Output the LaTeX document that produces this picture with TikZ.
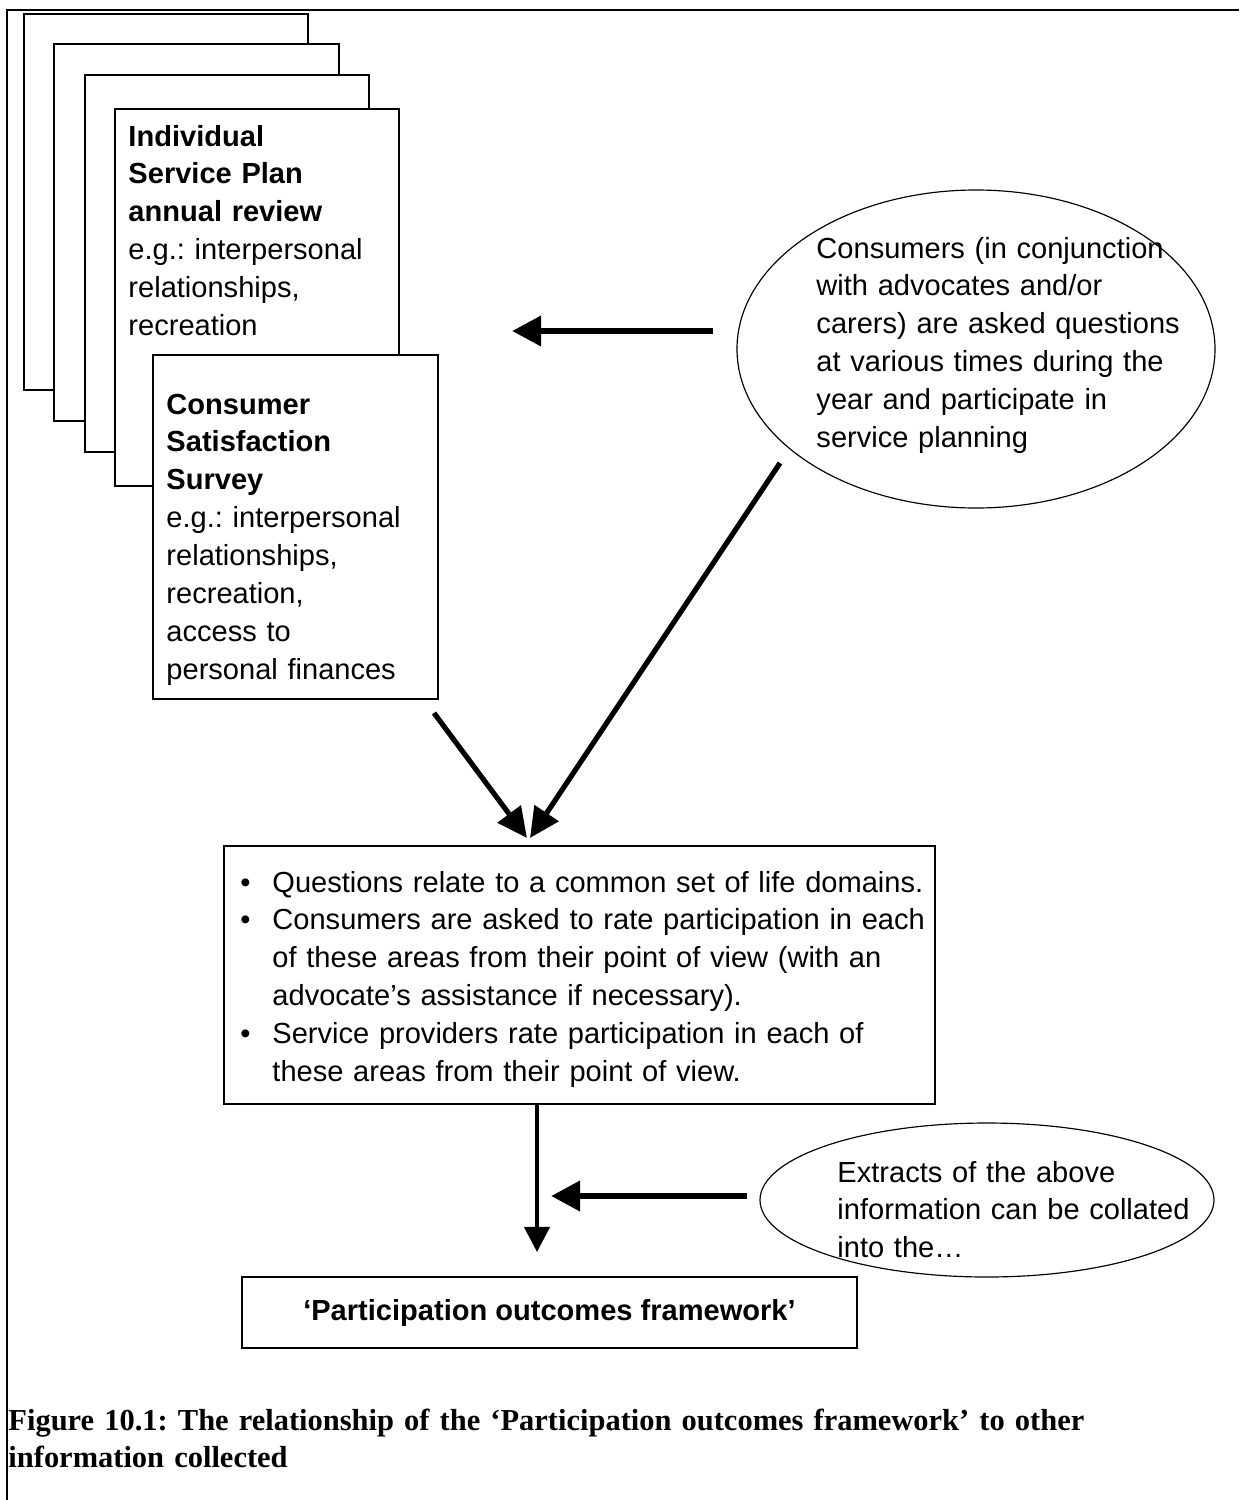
\documentclass[tikz,border=0pt]{standalone}
\usepackage{fontspec}
\setmainfont{Liberation Serif}
\setsansfont{Liberation Sans}
\usetikzlibrary{positioning, arrows.meta, shapes.geometric}
\frenchspacing
\newcommand{\px}{0.015cm}
\newcommand{\bl}{\makebox[0.48cm][l]{\textbullet}}
\newcommand{\nb}{\hspace*{0.48cm}}
\tikzset{
  >={Triangle[length=12.4pt,width=12.4pt]},
  sheet/.style={draw, fill=white, line width=0.6pt},
  box/.style={draw, rectangle, line width=0.7pt},
  bubble/.style={draw, ellipse, line width=0.5pt},
  txt/.style={font=\sffamily\fontsize{12.4}{16.2}\selectfont, align=left,
              text width=9cm, inner sep=0pt, anchor=base west},
  fat/.style={->, line width=2.8pt},
  slim/.style={->, line width=2.2pt, >={Triangle[length=12.8pt,width=12pt]}},
  down/.style={->, line width=1.8pt, >={Triangle[length=10.7pt,width=10.7pt]}},
}

\begin{document}
\begin{tikzpicture}[x=\px, y=-\px]
  \useasboundingbox (0,0) rectangle (1239,1500);
  % outer frame
  \draw[line width=1pt] (7,1500) |- (1239,10);

  % pile of forms
  \draw[sheet] (24,14) rectangle (308,390);
  \draw[sheet] (54,44) rectangle (339,421);
  \draw[sheet] (85,75) rectangle (369,452);
  \draw[sheet] (115,109) rectangle (399,486);
  \node[txt] (isp) at (128,146) {\textbf{Individual}\\ \textbf{Service Plan}\\
    \textbf{annual review}\\ e.g.: interpersonal\\ relationships,\\ recreation};
  \draw[sheet] (153,355) rectangle (438,699);
  \node[txt] (css) at (166,414) {\textbf{Consumer}\\ \textbf{Satisfaction}\\
    \textbf{Survey}\\ e.g.: interpersonal\\ relationships,\\ recreation,\\
    access to\\ personal finances};

  % consumers bubble
  \node[bubble, minimum width=478*\px, minimum height=318*\px] (ask) at (976,349) {};
  \node[txt] (asktext) at (816,258) {Consumers (in conjunction\\ with advocates and/or\\
    carers) are asked questions\\ at various times during the\\
    year and participate in\\ service planning};

  % life domains box
  \node[box, anchor=north west, minimum width=711*\px, minimum height=258*\px] (rate) at (223,845) {};
  \node[txt, text width=11cm] (ratetext) at (240,892) {%
    \bl Questions relate to a common set of life domains.\\
    \bl Consumers are asked to rate participation in each\\
    \nb of these areas from their point of view (with an\\
    \nb advocate’s assistance if necessary).\\
    \bl Service providers rate participation in each of\\
    \nb these areas from their point of view.};

  % extracts bubble
  \node[bubble, minimum width=454*\px, minimum height=154*\px] (extract) at (987,1200) {};
  \node[txt] (extracttext) at (837,1182) {Extracts of the above\\
    information can be collated\\ into the…};

  % framework box
  \node[box, minimum width=615*\px, minimum height=71*\px,
        font=\sffamily\bfseries\fontsize{12.4}{16.2}\selectfont] (pof) at (549.5,1312.5)
        {‘Participation outcomes framework’};

  % caption
  \node[anchor=base west, inner sep=0pt, align=left, text width=17cm,
        font=\rmfamily\bfseries\fontsize{13}{16.2}\selectfont] (caption) at (8,1430)
        {Figure 10.1: The relationship of the ‘Participation outcomes framework’ to other\\
         information collected};

  % arrow ends
  \coordinate (a1s) at (713,331);  \coordinate (a1e) at (512,331);
  \coordinate (a2s) at (434,713);  \coordinate (a2e) at (527,838);
  \coordinate (a3s) at (780,463);  \coordinate (a3e) at (530,838);
  \coordinate (a4s) at (537,1103); \coordinate (a4e) at (537,1252);
  \coordinate (a5s) at (747,1196); \coordinate (a5e) at (551,1196);

  \draw[fat]  (a1s) -- (a1e);
  \draw[slim] (a2s) -- (a2e);
  \draw[slim] (a3s) -- (a3e);
  \draw[down] (a4s) -- (a4e);
  \draw[fat]  (a5s) -- (a5e);
\end{tikzpicture}
\end{document}
